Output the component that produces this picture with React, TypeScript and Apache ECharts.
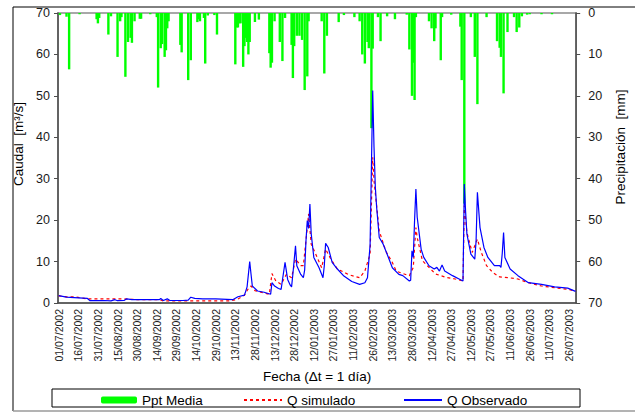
import React, { useEffect, useRef } from "react";
import * as echarts from "echarts";

// ---- Data ----
const START_DATE = Date.UTC(2002, 6, 1); // 01/07/2002
const NUM_DAYS = 396; // 01/07/2002 .. 31/07/2003

const pad = (n: number) => (n < 10 ? "0" + n : "" + n);
const CATEGORIES: string[] = Array.from({ length: NUM_DAYS }, (_, i) => {
  const d = new Date(START_DATE + i * 86400000);
  return `${pad(d.getUTCDate())}/${pad(d.getUTCMonth() + 1)}/${d.getUTCFullYear()}`;
});

// [day index, precipitation mm]
const PPT_MEDIA: [number, number][] = [
  [1, 0.5], [6, 0.9], [8, 13.6], [16, 0.3], [29, 1.5], [30, 2.5], [31, 1.2],
  [38, 5.2], [40, 0.8], [45, 10.6], [47, 2.0], [48, 1.0], [51, 15.4], [53, 7.0],
  [55, 6.0], [56, 7.2], [58, 2.0], [62, 1.4], [63, 1.4], [70, 0.3], [75, 1.0],
  [76, 18.0], [78, 8.5], [79, 7.5], [81, 10.6], [82, 9.0], [83, 3.7], [84, 2.0],
  [93, 7.7], [94, 9.5], [99, 16.2], [101, 11.4], [106, 2.2], [107, 1.5], [108, 2.0],
  [111, 1.2], [112, 12.2], [114, 0.6], [119, 0.5], [121, 5.2],
  [135, 12.4], [136, 3.5], [137, 3.5], [138, 2.5], [139, 2.5], [141, 13.0], [142, 8.0],
  [143, 6.0], [144, 7.0], [145, 10.0], [146, 7.0], [150, 2.2], [153, 1.6],
  [161, 9.7], [162, 13.2], [163, 12.0], [165, 2.0], [169, 7.0], [171, 11.6], [173, 1.2],
  [178, 7.7], [179, 15.7], [180, 8.0], [182, 5.5], [184, 5.5], [186, 6.5], [188, 18.6],
  [190, 15.3], [191, 2.0], [201, 2.0], [203, 14.6], [205, 5.5], [214, 2.2], [218, 0.5],
  [226, 1.0], [230, 2.0], [232, 10.0], [234, 12.2], [236, 7.0], [237, 8.5], [239, 27.8],
  [240, 8.6], [244, 1.0], [246, 6.8], [251, 0.8], [257, 1.5], [266, 0.4],
  [268, 8.8], [270, 20.0], [271, 12.0], [272, 21.0], [273, 1.0],
  [283, 2.0], [285, 3.7], [287, 6.8], [288, 3.7], [292, 11.4], [293, 1.0], [300, 0.4],
  [307, 3.3], [308, 16.2], [310, 46.0], [315, 1.0], [318, 10.6], [320, 22.0], [327, 1.0],
  [335, 6.8], [337, 8.4], [338, 10.6], [340, 19.4], [343, 4.6], [348, 1.0], [350, 4.6],
  [352, 3.5], [354, 0.8], [358, 0.4], [360, 0.3], [369, 0.3], [377, 0.3],
];

// [day index, discharge m3/s]
const Q_OBSERVADO: [number, number][] = [
  [0, 1.8], [3, 1.6], [6, 1.4], [12, 1.3], [22, 1.1], [24, 0.55], [35, 0.6], [40, 0.5],
  [43, 0.8], [45, 0.55], [50, 0.6], [52, 1.0], [56, 0.8], [65, 0.8], [77, 0.8], [78, 1.1],
  [80, 0.6], [83, 1.0], [85, 0.6], [95, 0.6], [99, 0.7], [101, 1.4], [104, 1.1],
  [110, 1.0], [120, 1.0], [133, 0.8], [137, 1.5], [142, 1.9], [144, 3.9], [146, 10.0],
  [147, 7.0], [148, 4.1], [152, 2.9], [157, 2.6], [162, 2.1], [163, 4.9], [165, 4.1],
  [168, 3.5], [170, 3.3], [171, 5.5], [173, 9.8], [175, 5.7], [177, 4.3], [178, 3.9],
  [179, 7.0], [181, 13.8], [182, 9.0], [185, 6.9], [187, 6.1], [188, 8.0], [189, 15.0],
  [190, 19.9], [191, 18.0], [192, 23.9], [193, 16.7], [195, 11.0], [199, 8.5], [202, 6.1],
  [203, 9.0], [204, 14.4], [206, 13.4], [209, 9.8], [213, 8.2], [218, 6.5], [224, 5.2],
  [230, 4.5], [234, 4.9], [236, 6.1], [238, 14.0], [240, 51.3], [241, 37.6], [242, 28.0],
  [243, 23.1], [245, 15.8], [248, 14.2], [252, 11.0], [255, 8.5], [260, 6.9], [263, 6.6],
  [268, 5.3], [269, 5.5], [270, 12.6], [271, 11.0], [272, 20.0], [273, 27.5], [274, 20.7],
  [277, 13.0], [279, 11.0], [283, 9.0], [287, 8.2], [289, 8.6], [291, 7.7], [293, 9.2],
  [295, 7.7], [301, 6.6], [306, 5.8], [309, 5.3], [310, 28.7], [311, 22.0], [312, 16.6],
  [315, 11.8], [318, 10.6], [319, 15.0], [320, 26.7], [322, 18.2], [325, 13.4], [328, 11.0],
  [333, 9.0], [337, 9.0], [338, 8.6], [339, 12.0], [340, 17.0], [341, 11.0], [345, 8.2],
  [351, 6.6], [359, 4.9], [369, 4.5], [379, 3.9], [389, 3.6], [395, 2.8],
];

const Q_SIMULADO: [number, number][] = [
  [0, 1.7], [6, 1.5], [12, 1.5], [22, 1.0], [50, 1.0], [60, 0.8], [77, 0.8], [80, 0.5],
  [130, 0.5], [136, 0.8], [142, 1.9], [145, 3.5], [147, 4.1], [150, 3.0], [157, 2.4],
  [161, 2.1], [163, 7.1], [166, 5.3], [170, 4.5], [174, 6.9], [178, 6.1], [181, 10.6],
  [185, 9.0], [187, 9.0], [190, 18.2], [191, 21.5], [193, 14.2], [197, 11.4], [201, 8.5],
  [204, 13.0], [208, 10.6], [213, 8.2], [222, 6.8], [230, 6.1], [234, 7.7], [238, 11.8],
  [240, 35.2], [241, 29.5], [245, 17.4], [250, 12.5], [255, 9.8], [258, 7.7], [263, 7.1],
  [268, 6.6], [271, 8.6], [273, 18.2], [274, 15.8], [278, 10.2], [283, 8.6], [288, 7.0],
  [296, 6.2], [303, 5.8], [309, 5.3], [310, 23.5], [312, 17.0], [316, 12.2], [320, 15.4],
  [323, 12.2], [327, 9.0], [332, 7.3], [337, 6.3], [344, 6.1], [351, 5.8], [359, 4.9],
  [369, 4.1], [379, 3.7], [389, 3.3], [395, 2.9],
];

const FONT = "'Liberation Sans', Arial, sans-serif";

export default function App() {
  const ref = useRef<HTMLDivElement>(null);

  useEffect(() => {
    if (!ref.current) return;
    const chart = echarts.init(ref.current, undefined, { renderer: "svg" });
    const axisLineStyle = { color: "#4d4d4d", width: 1.5 };
    const legendText = { fontFamily: FONT, fontSize: 13.5, color: "#000" };
    chart.setOption({
      animation: false,
      backgroundColor: "#ffffff",
      textStyle: { fontFamily: FONT },
      grid: {
        left: 58,
        right: 53,
        top: 13,
        bottom: 109,
        show: true,
        borderColor: "#8c8c8c",
        borderWidth: 1.5,
        backgroundColor: "transparent",
      },
      legend: [
        {
          data: ["Ppt Media"],
          left: 96,
          top: 388,
          itemWidth: 36,
          itemHeight: 7,
          textStyle: legendText,
        },
        {
          data: ["Q simulado"],
          left: 238,
          top: 388,
          itemWidth: 38,
          itemHeight: 8,
          itemStyle: { opacity: 0 },
          textStyle: legendText,
        },
        {
          data: ["Q Observado"],
          left: 398,
          top: 388,
          itemWidth: 38,
          itemHeight: 8,
          itemStyle: { opacity: 0 },
          textStyle: legendText,
        },
      ],
      xAxis: {
        type: "category",
        data: CATEGORIES,
        boundaryGap: true,
        name: "Fecha (Δt = 1 día)",
        nameLocation: "middle",
        nameGap: 66,
        nameTextStyle: { fontFamily: FONT, fontSize: 13.5, color: "#000" },
        axisLine: { lineStyle: axisLineStyle },
        axisTick: { interval: 14, alignWithLabel: true, length: 3, lineStyle: { color: "#4d4d4d" } },
        axisLabel: {
          interval: 14,
          rotate: 90,
          margin: 6,
          fontFamily: FONT,
          fontSize: 10.5,
          color: "#1a1a1a",
        },
        splitLine: { show: false },
      },
      yAxis: [
        {
          type: "value",
          min: 0,
          max: 70,
          interval: 10,
          position: "left",
          name: "Caudal  [m³/s]",
          nameLocation: "middle",
          nameRotate: 90,
          nameGap: 25,
          nameTextStyle: { fontFamily: FONT, fontSize: 13.5, color: "#000", padding: [0, 0, 0, 28] },
          axisLine: { show: true, lineStyle: axisLineStyle },
          axisTick: { show: true, length: 4, lineStyle: { color: "#4d4d4d" } },
          axisLabel: { margin: 8, fontFamily: FONT, fontSize: 12.5, color: "#1a1a1a" },
          splitLine: { show: false },
        },
        {
          type: "value",
          min: 0,
          max: 70,
          interval: 10,
          inverse: true,
          position: "right",
          name: "Precipitación  [mm]",
          nameLocation: "middle",
          nameRotate: 90,
          nameGap: 31,
          nameTextStyle: { fontFamily: FONT, fontSize: 13.5, color: "#000", padding: [0, 0, 0, 22] },
          axisLine: { show: true, lineStyle: axisLineStyle },
          axisTick: { show: true, length: 4, lineStyle: { color: "#4d4d4d" } },
          axisLabel: { margin: 12, fontFamily: FONT, fontSize: 12.5, color: "#1a1a1a" },
          splitLine: { show: false },
        },
      ],
      series: [
        {
          name: "Ppt Media",
          type: "bar",
          yAxisIndex: 1,
          data: PPT_MEDIA,
          barWidth: 2.4,
          itemStyle: { color: "#00ff00" },
        },
        {
          name: "Q simulado",
          type: "line",
          yAxisIndex: 0,
          data: Q_SIMULADO,
          symbol: "none",
          lineStyle: { color: "#ff0000", width: 1.2, type: [3, 3] },
          itemStyle: { color: "#ff0000" },
          z: 3,
        },
        {
          name: "Q Observado",
          type: "line",
          yAxisIndex: 0,
          data: Q_OBSERVADO,
          symbol: "none",
          lineStyle: { color: "#0000ff", width: 1.2 },
          itemStyle: { color: "#0000ff" },
          z: 4,
        },
      ],
      graphic: [
        {
          type: "rect",
          shape: { x: 52, y: 389, width: 528, height: 18 },
          style: { fill: "none", stroke: "#000", lineWidth: 1 },
          silent: true,
        },
        {
          type: "polyline",
          shape: { points: [[640, 7], [13, 7], [13, 411]] },
          style: { fill: "none", stroke: "#000", lineWidth: 1 },
          silent: true,
        },
        {
          type: "line",
          shape: { x1: 13, y1: 411, x2: 640, y2: 411 },
          style: { stroke: "#9a9a9a", lineWidth: 1.5 },
          silent: true,
        },
      ],
    });
    return () => chart.dispose();
  }, []);

  return (
    <div
      ref={ref}
      style={{ position: "fixed", left: 0, top: 0, width: 635, height: 412, background: "#fff" }}
    />
  );
}
